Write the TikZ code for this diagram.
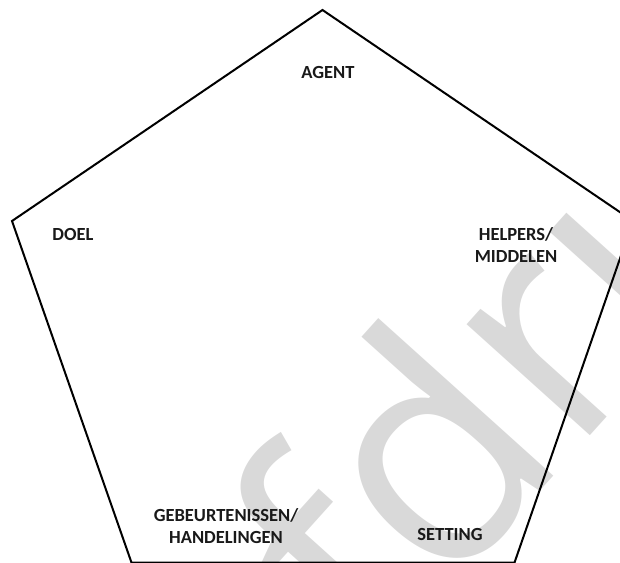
\documentclass[tikz,border=0pt]{standalone}
\usepackage{fontspec}
\setmainfont{Carlito}
\newfontfamily\wmfont{Open Sans}
\begin{document}
\begin{tikzpicture}[x=1pt,y=-1pt,
  lbl/.style={font=\bfseries\fontsize{18.5}{22.5}\selectfont, align=center, inner sep=0pt, text=black!90},
  wmark/.style={text=black!15, rotate=48, anchor=base west, font=\wmfont\fontsize{310}{310}\selectfont, inner sep=0pt},
  edge/.style={line width=2pt, black, line join=miter}]
\useasboundingbox (0,0) rectangle (620,562);
\node[wmark] (wm) at (374.5,675.4) {fdru};
\coordinate (top) at (322.5,10);
\coordinate (left) at (12,221);
\coordinate (right) at (633,221);
\coordinate (bl) at (131.5,562.6);
\coordinate (br) at (514.5,562.6);
\draw[edge] (top) -- (right) -- (br) -- (bl) -- (left) -- cycle;
\node[lbl] (agent) at (328,72) {AGENT};
\node[lbl] (doel) at (73,234) {DOEL};
\node[lbl] (helpers) at (516,245) {HELPERS/\\MIDDELEN};
\node[lbl] (gebeur) at (226,526) {GEBEURTENISSEN/\\HANDELINGEN};
\node[lbl] (setting) at (450,534) {SETTING};
\end{tikzpicture}
\end{document}
